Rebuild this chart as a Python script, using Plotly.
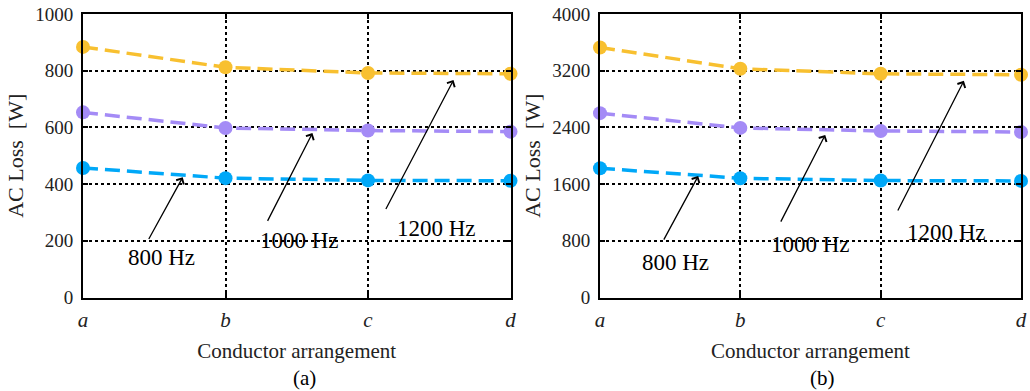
import plotly.graph_objects as go
from plotly.subplots import make_subplots

categories = ["a", "b", "c", "d"]
tick_labels = ["<i>a</i>", "<i>b</i>", "<i>c</i>", "<i>d</i>"]
series_names = ["800 Hz", "1000 Hz", "1200 Hz"]

# panel (a)
loss_a_800 = [457, 421, 413, 412]
loss_a_1000 = [653, 598, 589, 585]
loss_a_1200 = [884, 812, 792, 789]

# panel (b)
loss_b_800 = [1823, 1682, 1650, 1645]
loss_b_1000 = [2601, 2393, 2350, 2335]
loss_b_1200 = [3528, 3227, 3156, 3143]

y_ticks_a = [0, 200, 400, 600, 800, 1000]
y_ticks_b = [0, 800, 1600, 2400, 3200, 4000]

colors = {"800 Hz": "#00A8F8", "1000 Hz": "#A48BF6", "1200 Hz": "#F8C030"}
FONT = "Liberation Serif, Times New Roman, serif"
TXT = "#222222"

fig = make_subplots(rows=1, cols=2)
xs = list(range(len(categories)))

panels = [
    (1, {"800 Hz": loss_a_800, "1000 Hz": loss_a_1000, "1200 Hz": loss_a_1200}),
    (2, {"800 Hz": loss_b_800, "1000 Hz": loss_b_1000, "1200 Hz": loss_b_1200}),
]
for col, data in panels:
    for name in series_names:
        fig.add_trace(go.Scatter(
            x=xs, y=data[name], mode="lines+markers", name=name,
            line=dict(color=colors[name], width=3.5, dash="15px,7px"),
            marker=dict(color=colors[name], size=14),
            cliponaxis=False, showlegend=False,
        ), row=1, col=col)

ydom = [1 - 297.5 / 391, 1 - 14 / 391]
common_axis = dict(
    showline=True, linecolor="black", linewidth=2, mirror="ticks",
    ticks="inside", ticklen=5, tickcolor="black", tickwidth=1.5,
    showgrid=True, gridcolor="black", gridwidth=1.5, griddash="dot",
    zeroline=False, automargin=False,
)
for i, (dom, yt) in enumerate([([83 / 1030, 510.5 / 1030], y_ticks_a),
                               ([600 / 1030, 1021 / 1030], y_ticks_b)]):
    sfx = "" if i == 0 else "2"
    fig.layout["xaxis" + sfx].update(
        domain=dom, range=[0, 3], tickvals=xs, ticktext=tick_labels,
        tickfont=dict(family=FONT, size=21, color=TXT), ticklabelstandoff=2,
        title=dict(text="Conductor arrangement", standoff=13,
                   font=dict(family=FONT, size=21, color=TXT)),
        **common_axis)
    fig.layout["yaxis" + sfx].update(
        domain=ydom, range=[yt[0], yt[-1]], tickvals=yt,
        tickfont=dict(family=FONT, size=19, color=TXT), ticklabelstandoff=4,
        title=dict(text="AC Loss\u00a0\u00a0[W]", standoff=6,
                   font=dict(family=FONT, size=22, color=TXT)),
        **common_axis)

# arrows and labels (axis coordinates)
arrow_specs = [
    ("x", "y", [(0.456, 201, 0.70, 424), (1.29, 265, 1.61, 580), (2.12, 307, 2.60, 767)],
     [(0.554, 141), (1.52, 201), (2.48, 244)]),
    ("x2", "y2", [(0.449, 796, 0.70, 1714), (1.283, 1050, 1.605, 2294), (2.117, 1206, 2.593, 3057)],
     [(0.54, 499), (1.50, 753), (2.47, 923)]),
]
for xr, yr, arrows, labels in arrow_specs:
    for (tx, ty, hx, hy) in arrows:
        fig.add_annotation(x=hx, y=hy, ax=tx, ay=ty, xref=xr, yref=yr,
                           axref=xr, ayref=yr, showarrow=True, text="",
                           arrowhead=4, arrowsize=1.3, arrowwidth=1.3,
                           arrowcolor="black")
    for name, (lx, ly) in zip(series_names, labels):
        fig.add_annotation(x=lx, y=ly, xref=xr, yref=yr, text=name,
                           showarrow=False, xanchor="center", yanchor="middle",
                           font=dict(family=FONT, size=23, color="black"))

for lbl, cx in [("(a)", 304), ("(b)", 822)]:
    fig.add_annotation(x=cx / 1030, y=1 - 378 / 391, xref="paper", yref="paper",
                       text=lbl, showarrow=False, xanchor="center", yanchor="middle",
                       font=dict(family=FONT, size=21, color="black"))

fig.update_layout(
    width=1030, height=391,
    margin=dict(l=0, r=0, t=0, b=0),
    plot_bgcolor="white", paper_bgcolor="white",
    font=dict(family=FONT, color=TXT),
)

fig.write_html("out.html", config={"displayModeBar": False},
               post_script="document.body.style.margin='0';document.body.style.overflow='hidden';")
